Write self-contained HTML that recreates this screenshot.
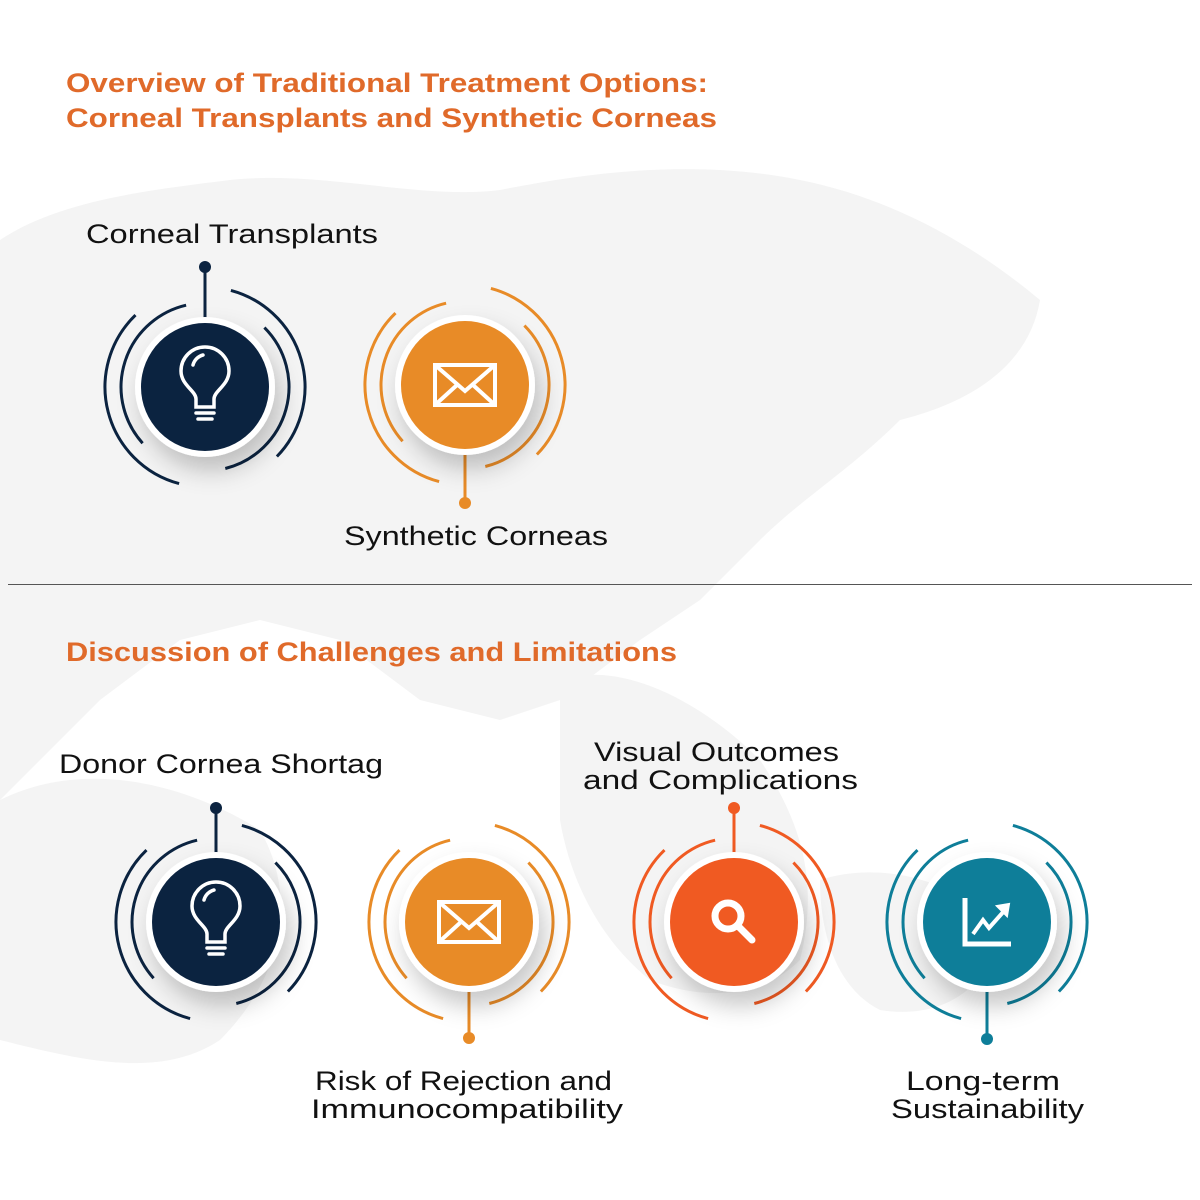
<!DOCTYPE html>
<html><head><meta charset="utf-8"><style>
html,body{margin:0;padding:0;background:#fff;}
svg{display:block}
text{font-family:"Liberation Sans",sans-serif;}
</style></head><body>
<svg width="1200" height="1200" viewBox="0 0 1200 1200" xmlns="http://www.w3.org/2000/svg">
<defs>
<filter id="sh" x="-50%" y="-50%" width="200%" height="200%"><feDropShadow dx="6" dy="14" stdDeviation="12" flood-color="#000" flood-opacity="0.22"/></filter>
<g id="arcs">
<path d="M -25.9 96.6 A 100 100 0 0 1 -69.5 -71.9" fill="none" stroke-width="3"/>
<path d="M 25.9 -96.6 A 100 100 0 0 1 71.9 69.5" fill="none" stroke-width="3"/>
<path d="M -62.4 56.2 A 84 84 0 0 1 -18.9 -81.8" fill="none" stroke-width="3"/>
<path d="M 59.4 -59.4 A 84 84 0 0 1 20.3 81.5" fill="none" stroke-width="3"/>
</g>
<g id="bulb" fill="none" stroke="#fff" stroke-width="3.5" stroke-linecap="round">
<path d="M -9 20 L -9 12 C -9 4 -24 -2 -24 -16 A 24 24 0 0 1 24 -16 C 24 -2 9 4 9 12 L 9 20 Z"/>
<path d="M -12 -22 A 14 14 0 0 1 -2 -32"/>
<line x1="-9" y1="26" x2="9" y2="26"/><line x1="-7" y1="32" x2="7" y2="32"/>
</g>
<g id="mail" fill="none" stroke="#fff" stroke-width="4">
<rect x="-30" y="-20" width="60" height="40"/>
<path d="M -30 -20 L 0 6 L 30 -20 M -30 20 L -8 0 M 30 20 L 8 0"/>
</g>
<g id="mag" fill="none" stroke="#fff" stroke-width="7" stroke-linecap="round">
<circle cx="-6" cy="-6" r="13"/><line x1="4" y1="4" x2="18" y2="18"/>
</g>
<g id="chart" fill="none" stroke="#fff" stroke-width="5">
<path d="M -22 -24 L -22 22 L 24 22"/>
<path d="M -14 12 L -4 -2 L 2 6 L 18 -12" stroke-width="4"/>
<path d="M 10 -16 L 22 -18 L 20 -6 Z" fill="#fff" stroke-width="2"/>
</g>
</defs>
<!-- map background -->
<g fill="#f4f4f4">
<path d="M0 240 C60 200 150 190 230 180 C320 170 420 200 500 190 C600 170 700 160 800 180 C900 200 980 250 1040 300 C1030 360 980 400 900 420 C850 470 800 500 760 540 L700 600 L640 640 L560 700 L500 720 L420 700 L340 640 L260 620 L180 640 L100 700 L40 760 L0 800 Z"/>
<path d="M560 680 C620 660 700 700 760 760 C800 820 820 880 800 960 C760 1000 700 1000 650 980 C600 940 570 880 560 820 Z"/>
<path d="M0 800 C80 760 180 780 260 830 C300 900 280 980 220 1040 C160 1080 80 1060 0 1040 Z"/>
<path d="M820 880 C880 860 960 880 1000 930 C990 990 940 1020 880 1010 C840 990 820 940 820 880 Z"/>
</g>
<g font-size="27" font-weight="bold" fill="#e06a2a">
<text x="66" y="92" textLength="642" lengthAdjust="spacingAndGlyphs">Overview of Traditional Treatment Options:</text>
<text x="66" y="127" textLength="651" lengthAdjust="spacingAndGlyphs">Corneal Transplants and Synthetic Corneas</text>
<text x="66" y="661" textLength="611" lengthAdjust="spacingAndGlyphs">Discussion of Challenges and Limitations</text>
</g>
<line x1="8" y1="584.5" x2="1192" y2="584.5" stroke="#555" stroke-width="1"/>
<g font-size="27" fill="#111">
<text x="86" y="243" textLength="292" lengthAdjust="spacingAndGlyphs">Corneal Transplants</text>
<text x="344" y="545" textLength="264" lengthAdjust="spacingAndGlyphs">Synthetic Corneas</text>
<text x="59" y="773" textLength="324" lengthAdjust="spacingAndGlyphs">Donor Cornea Shortag</text>
<text x="594" y="761" textLength="245" lengthAdjust="spacingAndGlyphs">Visual Outcomes</text>
<text x="583" y="789" textLength="275" lengthAdjust="spacingAndGlyphs">and Complications</text>
<text x="315" y="1090" textLength="297" lengthAdjust="spacingAndGlyphs">Risk of Rejection and</text>
<text x="311" y="1118" textLength="312" lengthAdjust="spacingAndGlyphs">Immunocompatibility</text>
<text x="906" y="1090" textLength="154" lengthAdjust="spacingAndGlyphs">Long-term</text>
<text x="891" y="1118" textLength="193" lengthAdjust="spacingAndGlyphs">Sustainability</text>
</g>
<!-- node 1 -->
<g transform="translate(205,387)">
<use href="#arcs" stroke="#0b2340"/>
<line x1="0" y1="-120" x2="0" y2="-66" stroke="#0b2340" stroke-width="3"/><circle cx="0" cy="-120" r="6" fill="#0b2340"/>
<circle r="70" fill="#fff" filter="url(#sh)"/><circle r="64" fill="#0b2340"/>
<use href="#bulb"/>
</g>
<!-- node 2 -->
<g transform="translate(465,385)">
<use href="#arcs" stroke="#e88b27"/>
<line x1="0" y1="66" x2="0" y2="118" stroke="#e88b27" stroke-width="3"/><circle cx="0" cy="118" r="6" fill="#e88b27"/>
<circle r="70" fill="#fff" filter="url(#sh)"/><circle r="64" fill="#e88b27"/>
<use href="#mail"/>
</g>
<!-- node 3 -->
<g transform="translate(216,922)">
<use href="#arcs" stroke="#0b2340"/>
<line x1="0" y1="-114" x2="0" y2="-66" stroke="#0b2340" stroke-width="3"/><circle cx="0" cy="-114" r="6" fill="#0b2340"/>
<circle r="70" fill="#fff" filter="url(#sh)"/><circle r="64" fill="#0b2340"/>
<use href="#bulb"/>
</g>
<!-- node 4 -->
<g transform="translate(469,922)">
<use href="#arcs" stroke="#e88b27"/>
<line x1="0" y1="66" x2="0" y2="116" stroke="#e88b27" stroke-width="3"/><circle cx="0" cy="116" r="6" fill="#e88b27"/>
<circle r="70" fill="#fff" filter="url(#sh)"/><circle r="64" fill="#e88b27"/>
<use href="#mail"/>
</g>
<!-- node 5 -->
<g transform="translate(734,922)">
<use href="#arcs" stroke="#f05a22"/>
<line x1="0" y1="-114" x2="0" y2="-66" stroke="#f05a22" stroke-width="3"/><circle cx="0" cy="-114" r="6" fill="#f05a22"/>
<circle r="70" fill="#fff" filter="url(#sh)"/><circle r="64" fill="#f05a22"/>
<use href="#mag"/>
</g>
<!-- node 6 -->
<g transform="translate(987,922)">
<use href="#arcs" stroke="#0e7e99"/>
<line x1="0" y1="66" x2="0" y2="117" stroke="#0e7e99" stroke-width="3"/><circle cx="0" cy="117" r="6" fill="#0e7e99"/>
<circle r="70" fill="#fff" filter="url(#sh)"/><circle r="64" fill="#0e7e99"/>
<use href="#chart"/>
</g>
</svg>
</body></html>
